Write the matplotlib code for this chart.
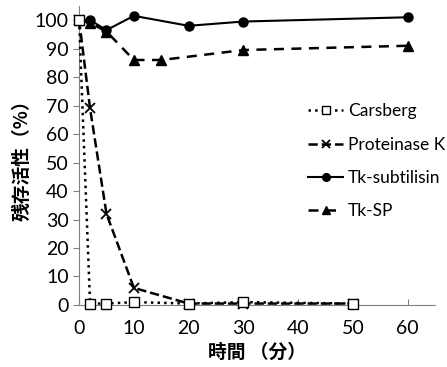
import matplotlib.pyplot as plt

plt.rcParams['font.family'] = ['Lato', 'Noto Sans CJK JP', 'DejaVu Sans']

# data
carsberg_t = [0, 2, 5, 10, 20, 30, 50]
carsberg_v = [100, 0.5, 0.5, 1, 0.5, 1, 0.5]
protk_t = [0, 2, 5, 10, 20, 30, 50]
protk_v = [100, 69, 32, 6, 0.5, 0.5, 0.5]
tksub_t = [0, 2, 5, 10, 20, 30, 60]
tksub_v = [100, 100, 96.5, 101.5, 98, 99.5, 101]
tksp_t = [0, 2, 5, 10, 15, 30, 60]
tksp_v = [100, 99, 96, 86, 86, 89.5, 91]

xticks = [0, 10, 20, 30, 40, 50, 60]
yticks = [0, 10, 20, 30, 40, 50, 60, 70, 80, 90, 100]

fig = plt.figure(figsize=(4.47, 3.67), dpi=100)
ax = fig.add_axes([0.177, 0.169, 0.796, 0.815])

ax.plot(carsberg_t, carsberg_v, ':', color='black', lw=1.8, marker='s', ms=7,
        mfc='white', mec='black', mew=1.0, label='Carsberg', clip_on=False, zorder=5)
ax.plot(protk_t, protk_v, '--', color='black', lw=1.8, marker='x', ms=7,
        mew=1.3, label='Proteinase K', clip_on=False, zorder=4)
ax.plot(tksub_t, tksub_v, '-', color='black', lw=1.5, marker='o', ms=6.5,
        label='Tk-subtilisin', clip_on=False, zorder=3)
ax.plot(tksp_t, tksp_v, '--', color='black', lw=1.8, marker='^', ms=7,
        dashes=(4, 3), label='Tk-SP', clip_on=False, zorder=3)

ax.set_xlim(0, 65)
ax.set_ylim(0, 105)
ax.set_xticks(xticks)
ax.set_yticks(yticks)
ax.tick_params(axis='x', direction='in', length=4, color='#808080', labelsize=14, pad=11)
ax.tick_params(axis='y', direction='out', length=4, color='#808080', labelsize=14)
for s in ['top', 'right']:
    ax.spines[s].set_visible(False)
for s in ['left', 'bottom']:
    ax.spines[s].set_color('#808080')

ax.set_xlabel('時間 （分）', fontsize=13.5, fontweight='bold', family='Noto Sans CJK JP', labelpad=4)
ax.set_ylabel('残存活性（%）', fontsize=13.5, fontweight='bold', family='Noto Sans CJK JP', labelpad=2)

ax.legend(loc='center left', bbox_to_anchor=(0.6, 0.48), frameon=False, fontsize=12.5,
          handlelength=2.0, handletextpad=0.3, labelspacing=1.0, markerscale=0.85)

fig.savefig('out.png', dpi=100)
